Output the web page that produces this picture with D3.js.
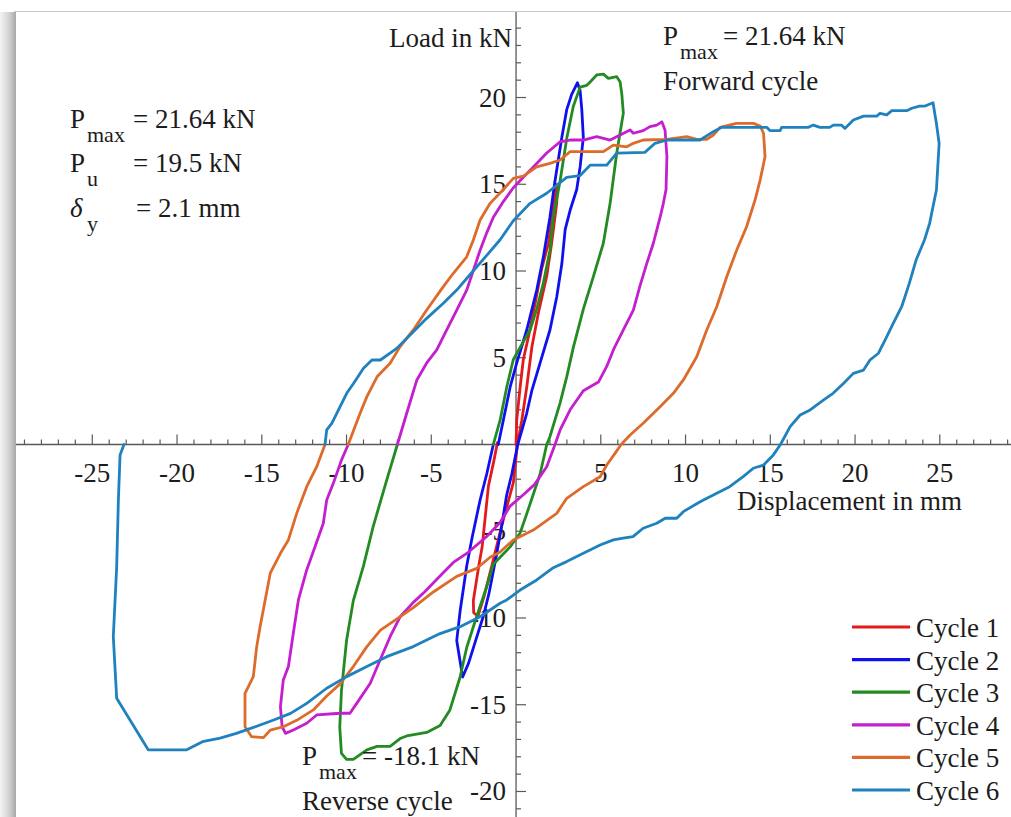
<!DOCTYPE html>
<html>
<head>
<meta charset="utf-8">
<script src="https://cdn.jsdelivr.net/npm/d3@7"></script>
<style>
  html, body { margin: 0; padding: 0; background: #fff; }
  svg text { font-family: "Liberation Serif", "Times New Roman", serif; fill: #1c1c1c; }
</style>
</head>
<body>
<script>
// ---------------------------- data (mm, kN) ----------------------------
var cycleNames = ["Cycle 1", "Cycle 2", "Cycle 3", "Cycle 4", "Cycle 5", "Cycle 6"];
var cycleColors = ["#e31a1c", "#1010ee", "#228b22", "#c41ecf", "#dd6b2b", "#1f81bd"];

var cycle1 = [[0,0],[0.04,1.4],[0.24,3.3],[0.43,4.9],[0.73,6.2],[1.12,8.1],[1.51,10.1],[1.91,11.6],[2.1,12.9],[2.3,14.3],[2.44,15.0],
  [2.4,13.9],[2.1,11.6],[1.81,9.7],[1.32,7.6],[0.93,5.6],[0.63,3.3],[0.34,1.4],[0.08,0],[-0.16,-2.2],[-0.85,-4.7],[-1.43,-7.0],
  [-1.9,-8.8],[-2.25,-9.9],[-2.5,-9.7],[-2.52,-9.0],[-2.2,-7.0],[-2.0,-5.9],[-1.63,-2.4],[-1.3,-0.9],[-1.1,0.1]];

var cycle2 = [[-1.05,0],[-0.75,1.4],[-0.35,3.3],[0.04,4.7],[0.63,6.6],[1.22,8.9],[1.61,10.8],[2.0,13.1],[2.3,15.2],[2.7,17.7],
  [2.99,19.3],[3.29,20.2],[3.62,20.85],[3.78,20.4],[3.88,19.3],[3.97,17.7],[3.78,16.0],[3.58,14.7],[3.19,13.5],[2.9,12.4],
  [2.7,10.4],[2.4,8.5],[2.0,6.6],[1.42,4.7],[0.93,3.1],[0.63,1.8],[0.34,0.8],[0.1,0],[-0.25,-1.7],[-0.55,-2.9],[-0.85,-4.7],
  [-1.14,-6.3],[-1.6,-8.6],[-1.93,-9.9],[-2.32,-11.1],[-2.8,-12.6],[-3.15,-13.4],[-3.5,-11.3],[-3.3,-9.6],[-2.91,-7.0],
  [-2.6,-5.4],[-2.12,-3.2],[-1.73,-1.7],[-1.34,0]];

var cycle3 = [[-1.34,0],[-0.94,1.4],[-0.55,3.3],[-0.16,4.9],[0.24,5.6],[0.83,6.6],[1.22,7.8],[1.61,9.3],[2.0,11.2],[2.2,13.1],
  [2.6,15.2],[3.0,17.7],[3.38,19.5],[3.78,20.6],[4.17,20.7],[4.37,20.9],[4.76,21.3],[5.15,21.35],[5.45,21.1],[5.94,21.2],
  [6.14,20.9],[6.24,20.2],[6.33,19.1],[5.94,16.8],[5.55,13.9],[5.15,11.6],[4.57,9.7],[3.97,7.8],[3.38,5.6],[2.99,3.9],
  [2.6,2.4],[2.0,0.45],[1.81,0],[1.42,-1.7],[0.63,-4.0],[0.24,-5.1],[-0.35,-5.9],[-0.94,-6.5],[-1.34,-6.9],[-1.73,-8.2],
  [-2.32,-9.9],[-2.91,-11.7],[-3.3,-13.4],[-3.9,-15.3],[-4.48,-16.2],[-5.27,-16.6],[-6.45,-16.8],[-6.84,-16.95],[-7.43,-17.4],
  [-8.2,-17.4],[-8.8,-17.6],[-9.6,-18.15],[-10.0,-18.15],[-10.3,-17.8],[-10.4,-16.3],[-10.3,-14.2],[-10.0,-11.3],[-9.6,-9.0],
  [-9.0,-7.0],[-8.42,-4.7],[-7.63,-2.05],[-7.0,0]];

var cycle4 = [[-7.0,0],[-6.45,1.8],[-5.86,3.7],[-5.27,4.7],[-4.68,5.45],[-4.09,6.6],[-3.5,7.75],[-2.91,8.9],[-2.6,9.8],
  [-2.12,11.2],[-1.73,12.2],[-1.34,13.1],[-0.75,14.0],[-0.16,14.8],[0.43,15.4],[1.02,16.0],[1.81,16.8],[2.6,17.45],[3.19,17.55],
  [3.97,17.55],[4.76,17.74],[5.55,17.55],[6.14,17.84],[6.73,18.13],[6.92,17.94],[7.5,18.09],[7.9,18.32],[8.3,18.41],[8.6,18.6],
  [8.79,18.13],[8.9,16.6],[8.85,14.7],[8.69,13.9],[8.5,13.1],[8.1,11.6],[7.7,10.4],[7.3,9.1],[6.92,7.75],[6.33,6.6],[5.74,5.45],
  [5.35,4.5],[4.86,3.6],[3.97,3.1],[3.19,2.0],[2.6,0.84],[2.3,0],[1.81,-1.28],[1.1,-2.3],[0.43,-2.9],[-0.35,-3.55],[-0.94,-4.5],
  [-1.73,-5.3],[-2.8,-6.2],[-3.7,-6.8],[-4.6,-7.7],[-5.4,-8.5],[-6.06,-9.1],[-6.84,-9.93],[-7.43,-11.08],[-8.02,-12.42],
  [-8.6,-13.76],[-9.4,-14.92],[-9.8,-15.49],[-10.38,-15.49],[-11.76,-15.59],[-12.35,-16.07],[-13.14,-16.46],[-13.6,-16.65],
  [-13.8,-16.27],[-13.9,-15.11],[-13.73,-13.57],[-13.43,-12.8],[-13.14,-10.88],[-12.84,-8.96],[-12.35,-7.23],[-11.86,-5.89],
  [-11.37,-4.54],[-11.17,-3.2],[-10.78,-2.24],[-10.3,-0.9],[-9.9,0]];

var cycle5 = [[-9.9,0],[-9.2,1.8],[-8.8,2.76],[-8.2,3.9],[-7.43,4.68],[-6.84,5.64],[-6.06,6.6],[-5.27,7.75],[-4.29,9.1],
  [-3.7,9.87],[-2.91,10.82],[-2.52,11.79],[-2.12,12.94],[-1.53,13.9],[-0.75,14.7],[-0.16,15.34],[0.43,15.47],[1.22,16.0],
  [2.0,16.2],[2.6,16.4],[3.19,16.88],[5.15,16.88],[5.74,17.26],[6.53,17.16],[6.92,17.36],[7.5,17.55],[8.9,17.59],[10.07,17.74],
  [10.66,17.59],[11.25,17.59],[11.64,17.84],[12.04,18.28],[13.0,18.51],[14.0,18.51],[14.4,18.36],[14.6,17.94],[14.69,16.59],
  [14.4,15.24],[14.1,14.09],[13.6,12.55],[13.02,11.21],[12.43,9.67],[11.84,7.94],[11.25,6.6],[10.66,5.06],[9.87,3.72],
  [9.28,2.95],[8.5,2.18],[7.5,1.22],[6.73,0.55],[6.2,0],[5.84,-0.51],[5.35,-1.18],[4.96,-1.86],[3.97,-2.43],[2.99,-3.1],
  [2.4,-3.97],[1.02,-4.93],[-0.16,-5.5],[-0.94,-6.2],[-1.53,-6.5],[-2.32,-7.14],[-3.5,-7.6],[-4.88,-8.5],[-6.06,-9.4],
  [-7.24,-10.2],[-8.0,-10.7],[-8.8,-11.65],[-9.6,-12.8],[-10.38,-13.8],[-11.17,-14.5],[-11.96,-15.3],[-12.94,-15.9],
  [-13.73,-16.27],[-14.5,-16.46],[-14.9,-16.9],[-15.6,-16.84],[-15.99,-16.27],[-15.99,-14.34],[-15.5,-13.38],[-15.3,-11.65],
  [-15.1,-10.5],[-14.8,-8.96],[-14.5,-7.42],[-13.9,-6.27],[-13.43,-5.5],[-12.94,-3.97],[-12.35,-2.43],[-11.76,-1.28],[-11.27,0]];

var cycle6 = [[-11.27,0],[-11.17,0.84],[-10.87,1.22],[-9.99,2.95],[-9.6,3.5],[-9.0,4.4],[-8.5,4.87],[-8.0,4.87],[-7.04,5.54],
  [-6.06,6.5],[-5.27,7.27],[-4.29,8.14],[-3.5,8.9],[-2.71,9.8],[-1.73,10.9],[-0.94,11.8],[-0.16,12.9],[0.83,13.9],[1.81,14.48],
  [2.99,15.4],[3.78,15.5],[4.37,16.1],[5.35,16.1],[5.94,16.8],[7.6,16.84],[8.2,17.36],[8.9,17.55],[10.86,17.55],[11.64,18.03],
  [12.13,18.28],[14.79,18.28],[14.99,18.09],[15.58,18.09],[15.67,18.28],[17.25,18.28],[17.54,18.41],[17.93,18.28],[18.5,18.28],
  [18.72,18.41],[19.2,18.41],[19.4,18.22],[19.9,18.7],[20.5,18.93],[21.28,18.93],[21.47,19.09],[21.87,19.0],[22.17,19.24],
  [23.05,19.24],[23.35,19.38],[23.8,19.5],[24.1,19.5],[24.6,19.7],[24.8,18.5],[24.96,17.36],[24.8,14.67],[24.4,12.75],
  [24.1,11.8],[23.6,10.63],[23.2,9.29],[22.75,7.94],[22.26,6.99],[21.77,6.02],[21.38,5.26],[20.88,4.87],[20.5,4.29],[19.9,4.1],
  [19.3,3.5],[18.7,2.95],[18.13,2.56],[17.35,1.99],[16.76,1.7],[16.17,1.03],[15.6,0],[15.18,-0.6],[14.6,-1.18],[14.0,-1.37],
  [13.4,-1.85],[12.6,-2.43],[11.64,-2.91],[10.86,-3.3],[9.87,-3.87],[9.48,-4.25],[8.8,-4.25],[8.3,-4.54],[7.5,-4.83],[6.9,-5.31],
  [6.33,-5.4],[5.74,-5.5],[4.96,-5.79],[3.97,-6.27],[2.99,-6.75],[2.2,-7.1],[1.22,-7.81],[0.24,-8.39],[-0.55,-8.96],[-0.94,-9.15],
  [-2.12,-9.93],[-3.3,-10.5],[-4.48,-10.9],[-4.88,-11.08],[-6.06,-11.65],[-7.63,-12.23],[-8.8,-12.8],[-9.99,-13.38],
  [-11.17,-14.05],[-12.35,-14.92],[-13.3,-15.5],[-14.3,-15.88],[-15.1,-16.17],[-16.5,-16.65],[-17.46,-16.93],[-18.5,-17.13],
  [-19.43,-17.6],[-21.7,-17.6],[-23.56,-14.63],[-23.76,-11.08],[-23.56,-7.04],[-23.46,-3.2],[-23.36,-0.6],[-23.13,0]];

var cycles = [cycle1, cycle2, cycle3, cycle4, cycle5, cycle6];

var xTickLabels = [-25, -20, -15, -10, -5, 5, 10, 15, 20, 25];
var yTickLabels = [-20, -15, -10, -5, 5, 10, 15, 20];

// ---------------------------- layout ----------------------------
var width = 1011, height = 817;

var svg = d3.select("body").append("svg")
  .attr("width", width)
  .attr("height", height);

var x = d3.scaleLinear().domain([-29.5, 29.2]).range([16, 1011]);
var y = d3.scaleLinear().domain([-21.5, 24.9]).range([817.5, 12.5]);

// frame: light top rule and left drop shadow
var defs = svg.append("defs");
var grad = defs.append("linearGradient").attr("id", "shadow").attr("x1", 0).attr("x2", 1).attr("y1", 0).attr("y2", 0);
grad.append("stop").attr("offset", "0%").attr("stop-color", "#f4f4f4");
grad.append("stop").attr("offset", "60%").attr("stop-color", "#d0d0d0");
grad.append("stop").attr("offset", "100%").attr("stop-color", "#a8a8a8");
svg.append("rect").attr("x", 0).attr("y", 12).attr("width", 16).attr("height", height - 12).attr("fill", "url(#shadow)");
svg.append("line").attr("x1", 14).attr("x2", width).attr("y1", 11.5).attr("y2", 11.5)
  .attr("stroke", "#c8c8c8").attr("stroke-width", 1.2);

// ---------------------------- axes ----------------------------
var axisColor = "#5a5a5a";
var x0 = x(0), y0 = y(0);

var xAxis = svg.append("g").attr("transform", "translate(0," + y0 + ")");
xAxis.append("line").attr("x1", 16).attr("x2", width).attr("stroke", axisColor).attr("stroke-width", 1.3);
xAxis.selectAll("line.tick").data(d3.range(-29, 30)).enter().append("line")
  .attr("class", "tick")
  .attr("x1", function(d) { return x(d); }).attr("x2", function(d) { return x(d); })
  .attr("y1", 0).attr("y2", function(d) { return d % 5 === 0 ? -10 : -5; })
  .attr("stroke", axisColor).attr("stroke-width", 1.2);
xAxis.selectAll("text").data(xTickLabels).enter().append("text")
  .attr("x", function(d) { return x(d); }).attr("y", 38)
  .attr("text-anchor", "middle").style("font-size", "27px")
  .text(function(d) { return d; });

var yAxis = svg.append("g").attr("transform", "translate(" + x0 + ",0)");
yAxis.append("line").attr("y1", 12).attr("y2", height).attr("stroke", axisColor).attr("stroke-width", 1.3);
yAxis.selectAll("line.tick").data(d3.range(-21, 25)).enter().append("line")
  .attr("class", "tick")
  .attr("y1", function(d) { return y(d); }).attr("y2", function(d) { return y(d); })
  .attr("x1", 0).attr("x2", function(d) { return d % 5 === 0 ? 10 : 5; })
  .attr("stroke", axisColor).attr("stroke-width", 1.2);
yAxis.selectAll("text").data(yTickLabels).enter().append("text")
  .attr("x", -10).attr("y", function(d) { return y(d) + 9; })
  .attr("text-anchor", "end").style("font-size", "27px")
  .text(function(d) { return d; });

svg.append("text").attr("x", 512).attr("y", 47).attr("text-anchor", "end")
  .style("font-size", "27px").text("Load in kN");
svg.append("text").attr("x", 737).attr("y", 510)
  .style("font-size", "27px").text("Displacement in mm");

// ---------------------------- curves ----------------------------
var line = d3.line()
  .x(function(d) { return x(d[0]); })
  .y(function(d) { return y(d[1]); });

svg.append("g").selectAll("path").data(cycles).enter().append("path")
  .attr("d", line)
  .attr("fill", "none")
  .attr("stroke", function(d, i) { return cycleColors[i]; })
  .attr("stroke-width", 2.8)
  .attr("stroke-linejoin", "round")
  .attr("stroke-linecap", "round");

// ---------------------------- legend ----------------------------
var legend = svg.append("g");
var leg = legend.selectAll("g").data(cycleNames).enter().append("g")
  .attr("transform", function(d, i) { return "translate(852," + (627 + i * 32.6) + ")"; });
leg.append("line").attr("x1", 0).attr("x2", 58)
  .attr("stroke", function(d, i) { return cycleColors[i]; }).attr("stroke-width", 3.2);
leg.append("text").attr("x", 64).attr("y", 10).style("font-size", "27px").text(function(d) { return d; });

// ---------------------------- annotations ----------------------------
function label(px, py, main, sub, rest, restX, italic) {
  var t = svg.append("text").attr("x", px).attr("y", py).style("font-size", "27px").text(main);
  if (italic) t.style("font-style", "italic");
  svg.append("text").attr("x", px + 17).attr("y", py + 14).style("font-size", "22px").text(sub);
  svg.append("text").attr("x", restX).attr("y", py).style("font-size", "27px").text(rest);
}
label(70, 128, "P", "max", "= 21.64 kN", 133);
label(70, 172, "P", "u", "= 19.5 kN", 133);
label(70, 217, "\u03B4", "y", "= 2.1 mm", 136, true);

label(663, 45, "P", "max", "= 21.64 kN", 723);
svg.append("text").attr("x", 663).attr("y", 90).style("font-size", "27px").text("Forward cycle");

label(302, 765, "P", "max", "= -18.1 kN", 362);
svg.append("text").attr("x", 302).attr("y", 810).style("font-size", "27px").text("Reverse cycle");
</script>
</body>
</html>
